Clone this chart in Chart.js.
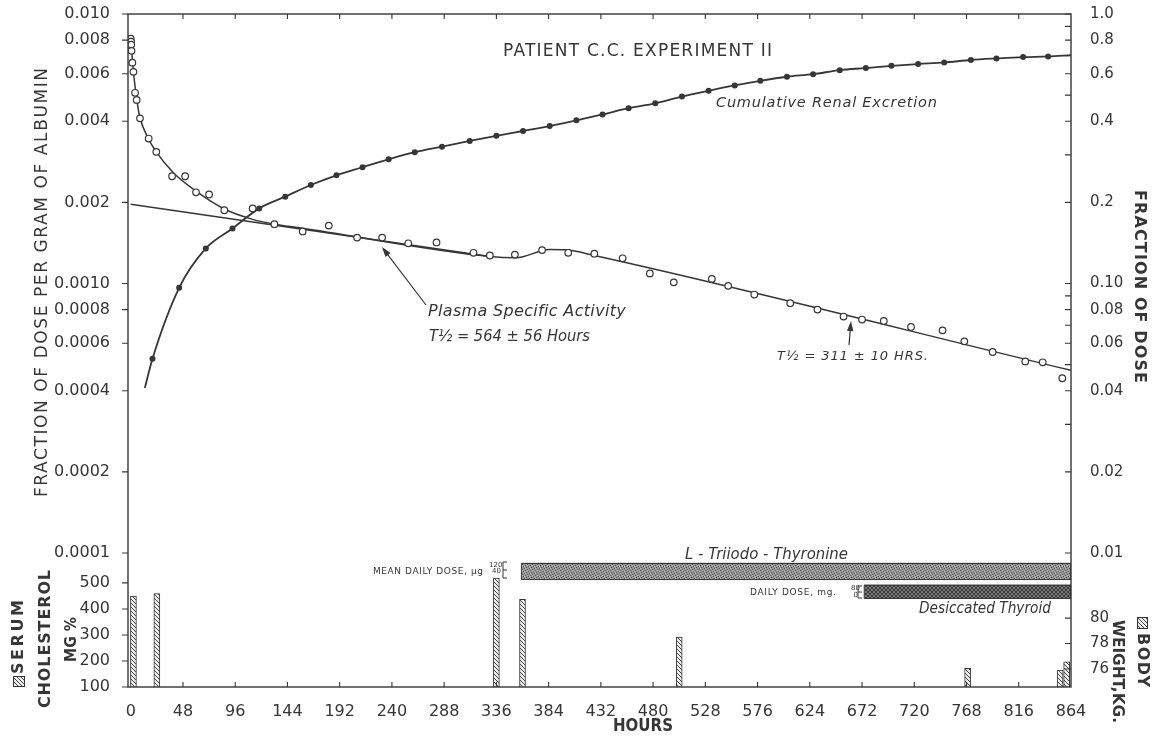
<!DOCTYPE html>
<html>
<head>
<meta charset="utf-8">
<script src="https://cdn.jsdelivr.net/npm/chart.js@4.4.0/dist/chart.umd.min.js"></script>
<style>
  html, body { margin: 0; background: #fff; }
  #wrap { width: 1157px; height: 739px; }
</style>
</head>
<body>
<div id="wrap"><canvas id="chart"></canvas></div>
<script>
// ---- data ----
const hourTicks = [0, 48, 96, 144, 192, 240, 288, 336, 384, 432, 480, 528, 576, 624, 672, 720, 768, 816, 864];

const leftTickValues = [0.01, 0.008, 0.006, 0.004, 0.002, 0.001, 0.0008, 0.0006, 0.0004, 0.0002, 0.0001];
const leftTickLabels = ['0.010', '0.008', '0.006', '0.004', '0.002', '0.0010', '0.0008', '0.0006', '0.0004', '0.0002', '0.0001'];
const rightTickValues = [1, 0.8, 0.6, 0.4, 0.2, 0.1, 0.08, 0.06, 0.04, 0.02, 0.01];
const rightTickLabels = ['1.0', '0.8', '0.6', '0.4', '0.2', '0.10', '0.08', '0.06', '0.04', '0.02', '0.01'];
const cholTicks = [100, 200, 300, 400, 500];
const weightTicks = [76, 78, 80];

// plasma specific activity (open circles)
const plasmaHours = [0, 0.25, 0.5, 0.75, 1.5, 2.5, 4, 5.5, 8.5, 16.5, 23.5, 38, 50, 60, 72, 86, 112, 132, 158, 182,
  208, 231, 255, 281, 315, 330, 353, 378, 402, 426, 452, 477, 499, 534, 549, 573, 606, 631, 655, 672,
  692, 717, 746, 766, 792, 822, 838, 856];
const plasmaValues = [0.0081, 0.0079, 0.0077, 0.0073, 0.0066, 0.0061, 0.0051, 0.0048, 0.0041, 0.00345, 0.00308, 0.0025, 0.0025, 0.00218, 0.00214, 0.00187, 0.0019, 0.00166, 0.00156, 0.00164,
  0.00148, 0.00148, 0.00141, 0.00142, 0.0013, 0.00127, 0.00128, 0.00133, 0.0013, 0.00129, 0.00124, 0.00109, 0.00101, 0.00104, 0.00098, 0.00091, 0.000845, 0.0008, 0.000754, 0.000735,
  0.000726, 0.00069, 0.00067, 0.00061, 0.000557, 0.000514, 0.00051, 0.000445];

// drawn curve through the plasma points
const plasmaFitHours = [0, 1, 2, 3.5, 5, 8, 16.5, 23, 39, 60, 86, 112, 132, 155, 330, 354, 385, 400, 426, 864];
const plasmaFitValues = [0.008, 0.0072, 0.0064, 0.0056, 0.005, 0.0042, 0.00343, 0.0031, 0.00258, 0.0022, 0.00189, 0.00173, 0.00166, 0.00161, 0.00126, 0.001246, 0.001337, 0.001333, 0.00127, 0.000476];

// straight slow-component line (T1/2 = 564 h)
const slowLineHours = [0, 330];
const slowLineValues = [0.00197, 0.00126];

// cumulative renal excretion (filled dots, right axis)
const renalHours = [20, 44.5, 69, 93.5, 118, 142, 165.5, 189, 213, 237, 261, 286, 311.5, 336, 360.5, 385, 409.5, 433.5, 457.5, 482,
  506.5, 531, 555, 578.5, 603, 627, 651.5, 675.5, 699, 723.5, 747.5, 772, 795.5, 820, 843];
const renalValues = [0.0526, 0.0964, 0.135, 0.16, 0.19, 0.21, 0.232, 0.252, 0.27, 0.289, 0.307, 0.322, 0.338, 0.353, 0.368, 0.384, 0.403, 0.424, 0.447, 0.466,
  0.494, 0.519, 0.543, 0.565, 0.585, 0.598, 0.619, 0.63, 0.642, 0.652, 0.661, 0.675, 0.684, 0.692, 0.696];
const renalCurveStart = [13, 0.041];
const renalCurveEnd = [864, 0.704];

// serum cholesterol bars (mg %) and body weight bars (kg)
const cholHours = [2.5, 24, 336, 360, 504];
const cholValues = [449, 459, 519, 437, 292];
const weightHours = [769, 854, 860];
const weightValues = [76.05, 75.92, 76.57];

// treatment periods (hours)
const t3Hours = [359, 864];
const desiccatedHours = [674, 864];

// ---- styles ----
const ink = '#363636';
const FF = '"DejaVu Sans", sans-serif';
const t3Band = { top: 575, bottom: 513 };        // in cholesterol-axis units
const desBand = { top: 491, bottom: 440 };

function makePattern(size, bg, draw) {
  const c = document.createElement('canvas');
  c.width = c.height = size;
  const g = c.getContext('2d');
  g.fillStyle = bg;
  g.fillRect(0, 0, size, size);
  draw(g);
  return g.createPattern(c, 'repeat');
}
const hatch = makePattern(4, '#eeeeee', g => {
  g.strokeStyle = '#444'; g.lineWidth = 1;
  g.beginPath(); g.moveTo(-1, -1); g.lineTo(5, 5); g.stroke();
});
const stipple = makePattern(5, '#979797', g => {
  g.fillStyle = '#4c4c4c';
  [[0, 0], [3, 1], [1, 2], [4, 3], [2, 4]].forEach(p => g.fillRect(p[0], p[1], 1, 1));
  g.fillStyle = '#c4c4c4';
  [[2, 0], [0, 3], [4, 1]].forEach(p => g.fillRect(p[0], p[1], 1, 1));
});
const crosshatch = makePattern(4, '#7c7c7c', g => {
  g.strokeStyle = '#383838'; g.lineWidth = 1;
  g.beginPath(); g.moveTo(0, 0); g.lineTo(4, 4); g.moveTo(4, 0); g.lineTo(0, 4); g.stroke();
});

const pts = (xs, ys) => xs.map((x, i) => ({ x: x, y: ys[i] }));
const bandTop = (hrs, b) => hrs.map(h => ({ x: h, y: b.top }));
const bandOutline = (hrs, b) => [
  { x: hrs[0], y: b.top }, { x: hrs[1], y: b.top }, { x: hrs[1], y: b.bottom }, { x: hrs[0], y: b.bottom }, { x: hrs[0], y: b.top }
];

function fixWidth(w) {
  return sc => { sc.width = w; sc.paddingTop = 0; sc.paddingBottom = 0; };
}
function setTicks(values) {
  return sc => { sc.ticks = values.map(v => ({ value: v })); };
}

function textFit(ctx, txt, x, y, w, font, rot) {
  ctx.save();
  ctx.font = font;
  ctx.fillStyle = ink;
  ctx.textBaseline = 'middle';
  ctx.textAlign = 'left';
  const nat = ctx.measureText(txt).width;
  const n = [...txt].length;
  ctx.translate(x, y);
  if (rot) ctx.rotate(rot * Math.PI / 180);
  let sx = 1;
  if (w) {
    const sp = (w - nat) / Math.max(1, n - 1);
    if (sp >= 0) ctx.letterSpacing = sp.toFixed(2) + 'px';
    else sx = w / nat;
  }
  ctx.scale(sx, 1);
  ctx.fillText(txt, 0, 0);
  ctx.restore();
}

function arrow(ctx, x1, y1, x2, y2) {
  const a = Math.atan2(y2 - y1, x2 - x1);
  ctx.beginPath();
  ctx.moveTo(x1, y1);
  ctx.lineTo(x2 - 6 * Math.cos(a), y2 - 6 * Math.sin(a));
  ctx.stroke();
  ctx.beginPath();
  ctx.moveTo(x2, y2);
  ctx.lineTo(x2 - 10 * Math.cos(a) + 3.2 * Math.sin(a), y2 - 10 * Math.sin(a) - 3.2 * Math.cos(a));
  ctx.lineTo(x2 - 10 * Math.cos(a) - 3.2 * Math.sin(a), y2 - 10 * Math.sin(a) + 3.2 * Math.cos(a));
  ctx.closePath();
  ctx.fill();
}

const notes = [
  ['PATIENT C.C. EXPERIMENT II', 503, 52, 269, `17px ${FF}`, 0],
  ['Cumulative Renal Excretion', 716, 103, 221, `italic 14.5px ${FF}`, 0],
  ['Plasma Specific Activity', 428, 312, 198, `italic 16px ${FF}`, 0],
  ['T½ = 564 ± 56 Hours', 429, 337, 161, `italic 16px ${FF}`, 0],
  ['T½ = 311 ± 10 HRS.', 777, 357, 151, `italic 13px ${FF}`, 0],
  ['L - Triiodo - Thyronine', 685, 555, 163, `italic 15px ${FF}`, 0],
  ['Desiccated Thyroid', 919, 609, 132, `italic 15px ${FF}`, 0],
  ['MEAN DAILY DOSE, µg', 373, 572, 110, `9px ${FF}`, 0],
  ['120', 489, 565, 0, `7px ${FF}`, 0],
  ['40', 492, 571.5, 0, `7px ${FF}`, 0],
  ['DAILY DOSE, mg.', 750, 593, 86, `9px ${FF}`, 0],
  ['80', 851, 588, 0, `7px ${FF}`, 0],
  ['0', 853.5, 595, 0, `7px ${FF}`, 0],
  ['FRACTION OF DOSE PER GRAM OF ALBUMIN', 43, 497, 429, `17px ${FF}`, -90],
  ['FRACTION OF DOSE', 1139, 190, 193, `bold 16px ${FF}`, 90],
  ['SERUM', 19, 674, 74, `bold 16px ${FF}`, -90],
  ['CHOLESTEROL', 46, 708, 138, `bold 16px ${FF}`, -90],
  ['MG %', 72.5, 662, 45, `bold 15px ${FF}`, -90],
  ['BODY', 1142.5, 633, 54, `bold 16px ${FF}`, 90],
  ['WEIGHT,KG.', 1117.5, 620, 103, `bold 16px ${FF}`, 90],
  ['HOURS', 613, 727, 60, `bold 17px ${FF}`, 0]
];

const decorations = {
  id: 'decorations',
  beforeDraw(chart) {
    const ctx = chart.ctx;
    ctx.save();
    ctx.fillStyle = '#fff';
    ctx.fillRect(0, 0, chart.width, chart.height);
    ctx.restore();
  },
  afterDatasetsDraw(chart) {
    const { ctx, chartArea: a, scales: s } = chart;
    ctx.save();
    ctx.strokeStyle = ink;
    ctx.fillStyle = ink;
    ctx.lineWidth = 1.4;
    ctx.strokeRect(a.left, a.top, a.right - a.left, a.bottom - a.top);

    ctx.lineWidth = 1.1;
    ctx.beginPath();
    hourTicks.slice(1, -1).forEach(h => {
      const x = s.x.getPixelForValue(h);
      ctx.moveTo(x, a.bottom); ctx.lineTo(x, a.bottom - 5);
      ctx.moveTo(x, a.top); ctx.lineTo(x, a.top + 5);
    });
    leftTickValues.forEach(v => {
      const y = s.y.getPixelForValue(v);
      ctx.moveTo(a.left, y); ctx.lineTo(a.left - 6, y);
    });
    cholTicks.forEach(v => {
      const y = s.yChol.getPixelForValue(v);
      ctx.moveTo(a.left, y); ctx.lineTo(a.left - 6, y);
    });
    [0.01, 0.1, 1].forEach(dec => {
      for (let m = 1; m <= 9; m++) {
        const v = dec * m;
        if (v > 1.0001) continue;
        const y = s.y2.getPixelForValue(v);
        ctx.moveTo(a.right, y); ctx.lineTo(a.right - 6, y);
      }
    });
    weightTicks.forEach(v => {
      const y = s.yWt.getPixelForValue(v);
      ctx.moveTo(a.right, y); ctx.lineTo(a.right - 6, y);
    });
    ctx.stroke();

    // dose scale brackets
    ctx.lineWidth = 1;
    ctx.beginPath();
    [[503, 562, 578], [858, 586, 598]].forEach(([x, y0, y1]) => {
      ctx.moveTo(x, y0); ctx.lineTo(x, y1);
      [y0, (y0 + y1) / 2, y1].forEach(y => { ctx.moveTo(x, y); ctx.lineTo(x + 4, y); });
    });
    ctx.stroke();

    // arrows
    ctx.lineWidth = 1.2;
    arrow(ctx, 426, 305, 382, 247);
    arrow(ctx, 849, 345, 851, 321);

    // hatched key squares
    [[13, 676, 12, 11], [1137, 617, 11, 12]].forEach(([x, y, w, h]) => {
      ctx.fillStyle = hatch;
      ctx.fillRect(x, y, w, h);
      ctx.lineWidth = 1;
      ctx.strokeRect(x + 0.5, y + 0.5, w - 1, h - 1);
    });
    ctx.restore();

    notes.forEach(n => textFit(ctx, n[0], n[1], n[2], n[3], n[4], n[5]));
  }
};

const tickFont = { family: 'DejaVu Sans', size: 16 };

new Chart(document.getElementById('chart'), {
  type: 'scatter',
  data: {
    datasets: [
      {
        type: 'scatter', label: 'Plasma specific activity', data: pts(plasmaHours, plasmaValues),
        xAxisID: 'x', yAxisID: 'y', showLine: false, pointRadius: 3.3, pointBackgroundColor: '#fff',
        pointBorderColor: ink, pointBorderWidth: 1.2
      },
      {
        type: 'scatter', label: 'Renal excretion', data: pts(renalHours, renalValues),
        xAxisID: 'x', yAxisID: 'y2', showLine: false, pointRadius: 3, pointBackgroundColor: ink,
        pointBorderColor: ink, pointBorderWidth: 0
      },
      {
        type: 'line', label: 'Plasma curve', data: pts(plasmaFitHours, plasmaFitValues),
        xAxisID: 'x', yAxisID: 'y', borderColor: ink, borderWidth: 1.5, pointRadius: 0,
        cubicInterpolationMode: 'monotone', fill: false
      },
      {
        type: 'line', label: 'T1/2 564 h', data: pts(slowLineHours, slowLineValues),
        xAxisID: 'x', yAxisID: 'y', borderColor: ink, borderWidth: 1.5, pointRadius: 0, fill: false
      },
      {
        type: 'line', label: 'Renal curve',
        data: [{ x: renalCurveStart[0], y: renalCurveStart[1] }, ...pts(renalHours, renalValues), { x: renalCurveEnd[0], y: renalCurveEnd[1] }],
        xAxisID: 'x', yAxisID: 'y2', borderColor: ink, borderWidth: 1.8, pointRadius: 0,
        cubicInterpolationMode: 'monotone', fill: false
      },
      {
        type: 'bar', label: 'Serum cholesterol', data: pts(cholHours, cholValues),
        xAxisID: 'x', yAxisID: 'yChol', backgroundColor: hatch, borderColor: ink, borderWidth: 1,
        barThickness: 6, grouped: false
      },
      {
        type: 'bar', label: 'Body weight', data: pts(weightHours, weightValues),
        xAxisID: 'x', yAxisID: 'yWt', backgroundColor: hatch, borderColor: ink, borderWidth: 1,
        barThickness: 6, grouped: false
      },
      {
        type: 'line', label: 'L-Triiodothyronine outline', data: bandOutline(t3Hours, t3Band),
        xAxisID: 'x', yAxisID: 'yChol', borderColor: ink, borderWidth: 1, pointRadius: 0, fill: false, tension: 0
      },
      {
        type: 'line', label: 'L-Triiodothyronine', data: bandTop(t3Hours, t3Band),
        xAxisID: 'x', yAxisID: 'yChol', borderColor: ink, borderWidth: 1, pointRadius: 0,
        fill: { value: t3Band.bottom }, backgroundColor: stipple
      },
      {
        type: 'line', label: 'Desiccated thyroid outline', data: bandOutline(desiccatedHours, desBand),
        xAxisID: 'x', yAxisID: 'yChol', borderColor: ink, borderWidth: 1, pointRadius: 0, fill: false, tension: 0
      },
      {
        type: 'line', label: 'Desiccated thyroid', data: bandTop(desiccatedHours, desBand),
        xAxisID: 'x', yAxisID: 'yChol', borderColor: ink, borderWidth: 1, pointRadius: 0,
        fill: { value: desBand.bottom }, backgroundColor: crosshatch
      }
    ]
  },
  options: {
    responsive: true,
    maintainAspectRatio: false,
    animation: false,
    events: [],
    layout: { padding: { top: 14, left: 0, right: 0, bottom: 0 } },
    plugins: { legend: { display: false }, tooltip: { enabled: false } },
    scales: {
      x: {
        type: 'linear', position: 'bottom', min: -2.5, max: 864, offset: false,
        grid: { display: false }, border: { display: false },
        afterBuildTicks: setTicks(hourTicks),
        afterFit: sc => { sc.height = 52; sc.paddingLeft = 0; sc.paddingRight = 0; },
        ticks: { font: tickFont, color: ink, padding: 7, maxRotation: 0, autoSkip: false, callback: v => String(v) }
      },
      // left stack is placed bottom-up, so the lower panel is declared first there
      yChol: {
        type: 'linear', position: 'left', stack: 'left', stackWeight: 1,
        min: 100, max: 615,
        grid: { display: false }, border: { display: false },
        afterBuildTicks: setTicks(cholTicks), afterFit: fixWidth(128),
        ticks: { font: tickFont, color: ink, padding: 10, autoSkip: false, callback: v => String(v) }
      },
      y: {
        type: 'logarithmic', position: 'left', stack: 'left', stackWeight: 539 / 134,
        min: 0.0001, max: 0.01,
        grid: { display: false }, border: { display: false },
        afterBuildTicks: setTicks(leftTickValues), afterFit: fixWidth(128),
        ticks: { font: tickFont, color: ink, padding: 10, autoSkip: false, callback: (v, i) => leftTickLabels[i] }
      },
      y2: {
        type: 'logarithmic', position: 'right', stack: 'right', stackWeight: 539 / 134,
        min: 0.01, max: 1,
        grid: { display: false }, border: { display: false },
        afterBuildTicks: setTicks(rightTickValues), afterFit: fixWidth(86),
        ticks: { font: { family: 'DejaVu Sans', size: 15 }, color: ink, padding: 11, autoSkip: false, callback: (v, i) => rightTickLabels[i] }
      },
      yWt: {
        type: 'linear', position: 'right', stack: 'right', stackWeight: 1,
        min: 74.58, max: 85.13,
        grid: { display: false }, border: { display: false },
        afterBuildTicks: setTicks(weightTicks), afterFit: fixWidth(86),
        ticks: { font: { family: 'DejaVu Sans', size: 15 }, color: ink, padding: 11, autoSkip: false, callback: v => String(v) }
      }
    }
  },
  plugins: [decorations]
});
</script>
</body>
</html>
